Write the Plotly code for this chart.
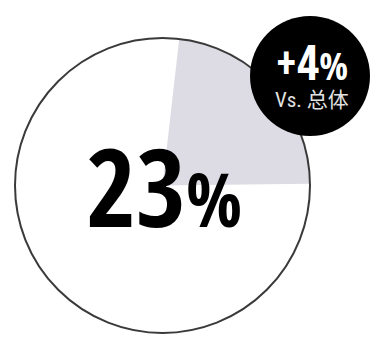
import plotly.graph_objects as go

# Share of respondents and the gap to the overall population
labels = ["该群体", "其他"]
values = [23, 77]
delta_vs_total = 4
compare_label = "总体"

W, H = 372, 339

# Pie placement (pixels)
cx, cy, r = 162.5, 185.5, 147.5
x0, x1 = (cx - r) / W, (cx + r) / W
y0, y1 = 1 - (cy + r) / H, 1 - (cy - r) / H

# Badge placement (pixels)
bx, by, br = 310, 76, 60

fig = go.Figure()
fig.add_trace(go.Pie(
    labels=labels,
    values=values,
    sort=False,
    direction="clockwise",
    rotation=6.5,
    marker=dict(colors=["#dddce4", "rgba(255,255,255,0)"], line=dict(width=0)),
    textinfo="none",
    hoverinfo="label+percent",
    showlegend=False,
    domain=dict(x=[x0, x1], y=[y0, y1]),
))

shapes = [
    # outer ring of the pie
    dict(type="circle", xref="paper", yref="paper",
         x0=x0, x1=x1, y0=y0, y1=y1,
         line=dict(color="#3a3a3a", width=2), fillcolor="rgba(0,0,0,0)",
         layer="above"),
    # black comparison badge
    dict(type="circle", xref="paper", yref="paper",
         x0=(bx - br) / W, x1=(bx + br) / W,
         y0=1 - (by + br) / H, y1=1 - (by - br) / H,
         line=dict(color="#000000", width=0), fillcolor="#000000",
         layer="above"),
]

cond = "Open Sans Condensed, Roboto Condensed, sans-serif"

# two-line badge text: big delta on top, comparison label below
badge_text = (
    "<span style='font-family:Open Sans Condensed;font-size:48px;"
    "font-weight:800;fill:#ffffff'>"
    f"+{delta_vs_total}<span style='font-size:38px'>%</span></span>"
    f"<br>Vs. {compare_label}"
)

annotations = [
    dict(text=f"{values[0]}<span style='font-size:74px'>%</span>",
         x=(cx + 1.5) / W, y=1 - 261 / H, xref="paper", yref="paper",
         xanchor="center", yanchor="bottom", showarrow=False,
         font=dict(family=cond, size=108, color="#000000", weight=800)),
    dict(text=badge_text,
         x=311.5 / W, y=1 - 71 / H, xref="paper", yref="paper",
         xanchor="center", yanchor="middle", align="center", showarrow=False,
         font=dict(family="Roboto Condensed, Noto Sans CJK SC, sans-serif",
                   size=21, color="#e2e2e2")),
]

fig.update_layout(
    width=W, height=H,
    margin=dict(l=0, r=0, t=0, b=0),
    paper_bgcolor="#ffffff",
    plot_bgcolor="#ffffff",
    shapes=shapes,
    annotations=annotations,
)

fig.write_html("out.html")
